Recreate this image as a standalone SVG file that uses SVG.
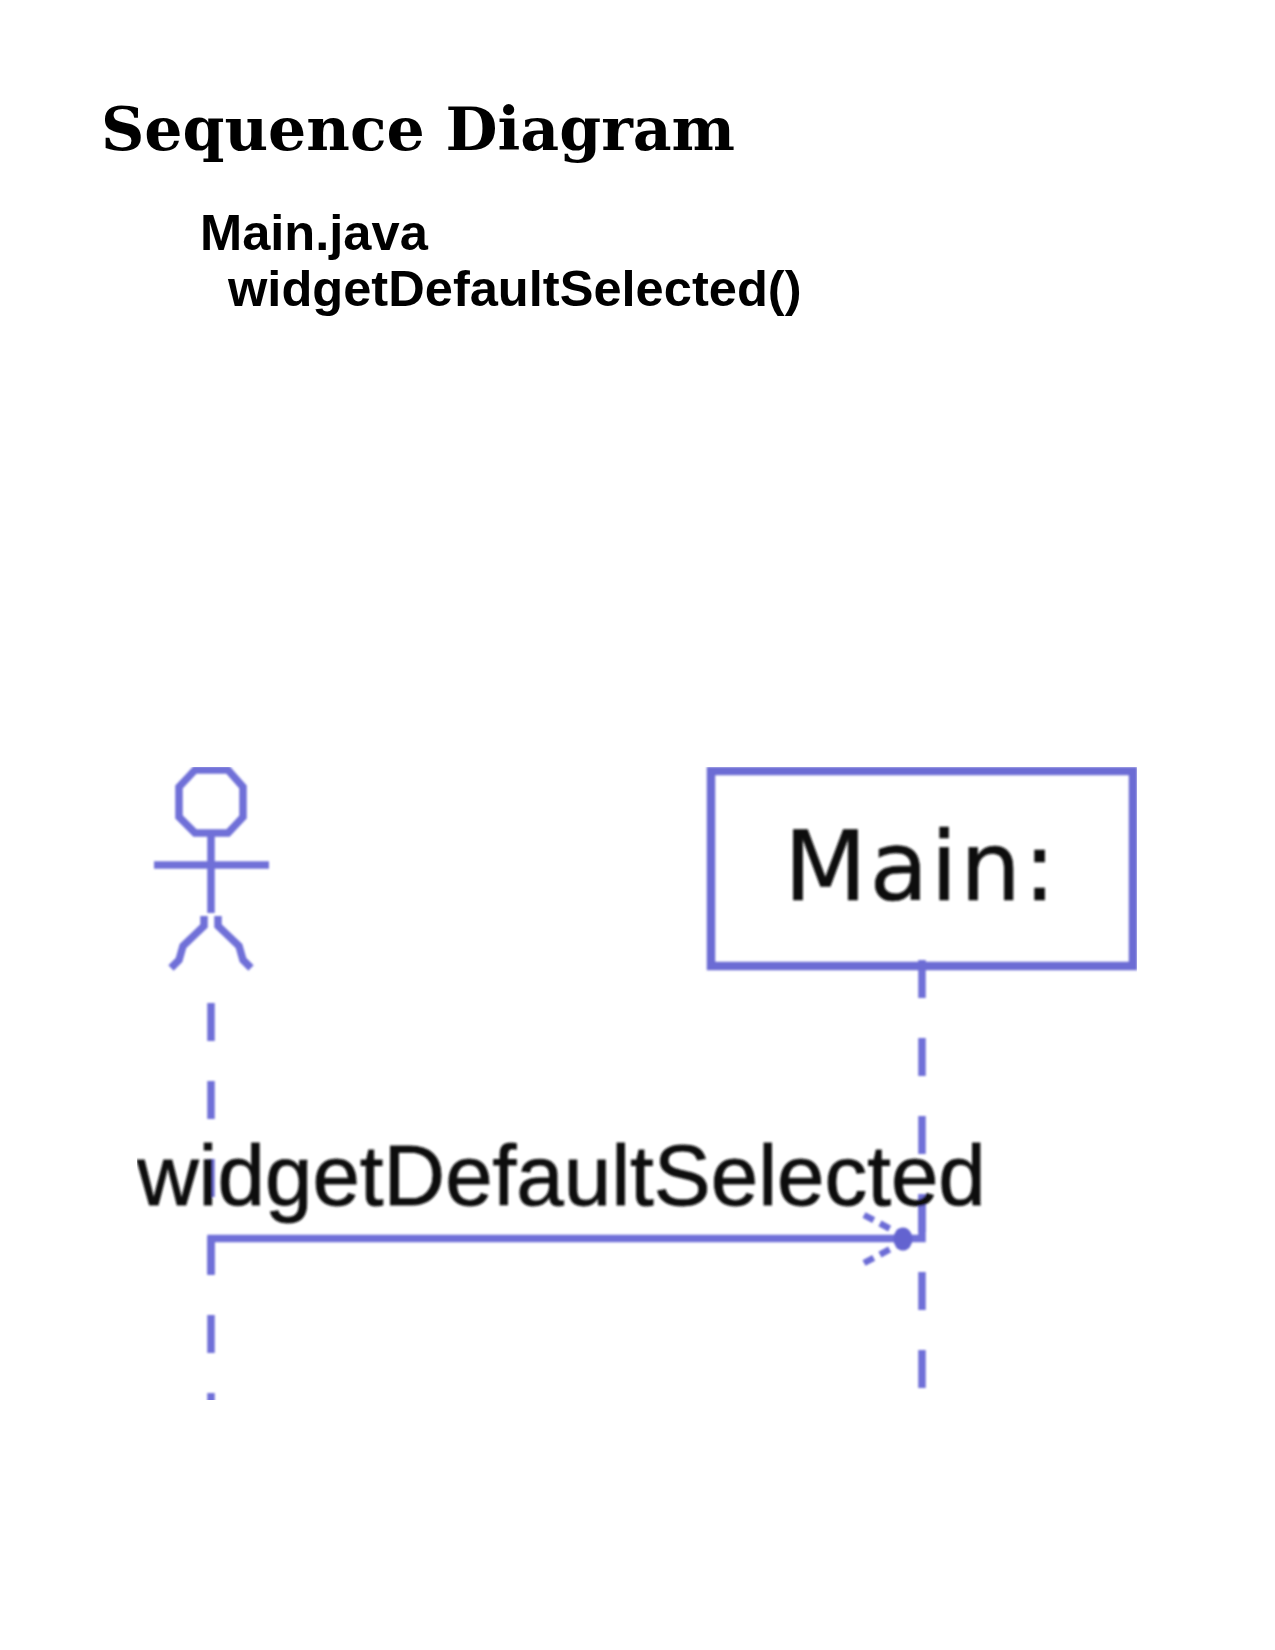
<svg xmlns="http://www.w3.org/2000/svg" width="1275" height="1650" viewBox="0 0 1275 1650">
  <style>
    .ln { fill: none; stroke: #7070d8; stroke-width: 7.5; }
    .life { stroke-dasharray: 38 40; }
    .barb { fill: none; stroke: #6c6cd6; stroke-width: 6.5; stroke-dasharray: 11 7; }
    .box { fill: none; stroke: #6c6cd4; stroke-width: 8.5; }
    .title { font-family: "DejaVu Serif", serif; font-weight: bold; font-size: 60px; fill: #000; }
    .sub { font-family: "Liberation Sans", Arial, sans-serif; font-weight: bold; font-size: 50.6px; fill: #000; }
    .lbl { font-family: "Liberation Sans", Arial, sans-serif; font-size: 85.3px; fill: #111; stroke: #111; stroke-width: 0.9; }
    .nm { font-family: "DejaVu Sans", sans-serif; font-size: 96px; letter-spacing: 2.6px; fill: #111; stroke: #111; stroke-width: 0.7; }
  </style>
  <defs>
    <clipPath id="pic"><rect x="137" y="767" width="1000" height="633"/></clipPath>
    <filter id="soft" x="-5%" y="-5%" width="110%" height="110%"><feGaussianBlur stdDeviation="0.9"/></filter>
  </defs>
  <rect width="1275" height="1650" fill="#fff"/>
  <text class="title" x="101" y="150">Sequence Diagram</text>
  <text class="sub" x="200" y="250">Main.java</text>
  <text class="sub" x="228" y="306">widgetDefaultSelected()</text>
  <g clip-path="url(#pic)" filter="url(#soft)">
    <g id="connectors">
      <line class="ln life" x1="211" y1="1003" x2="211" y2="1410"/>
      <line class="ln life" x1="922" y1="960" x2="922" y2="1392"/>
      <path class="ln" d="M211 1274V1238.500H922V1196"/>
      <path class="barb" d="M864 1215L900 1234M864 1263L900 1244"/>
      <ellipse cx="903" cy="1239" rx="9.500" ry="11.500" fill="#6464d0"/>
    </g>
    <g id="actor">
      <polygon class="ln" points="195,770 228,770 243,787 243,817 228,833 195,833 179,817 179,787"/>
      <line class="ln" x1="154" y1="865" x2="269" y2="865"/>
      <line class="ln" x1="211" y1="835" x2="211" y2="913"/>
      <path class="ln" d="M204 916L204 926L183 946L179 960L171 968M218 916L218 926L239 946L243 960L251 968"/>
    </g>
    <g id="main">
      <rect class="box" x="711" y="771" width="422" height="195"/>
      <text class="nm" x="784" y="900">Main:</text>
    </g>
    <text class="lbl" x="137" y="1205">widgetDefaultSelected</text>
  </g>
</svg>
